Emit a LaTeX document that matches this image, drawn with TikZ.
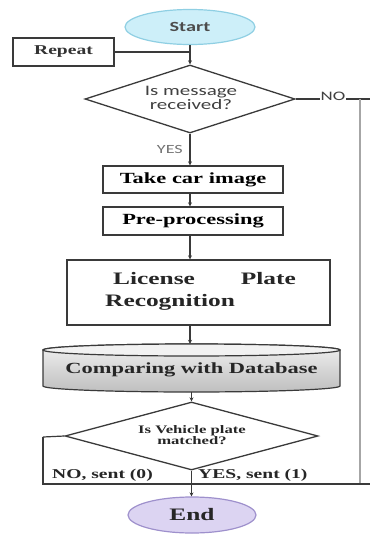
\documentclass[tikz,border=0pt]{standalone}
\usepackage{fontspec}
\setmainfont{Liberation Serif}
\newfontfamily\serW{Liberation Serif}[FakeStretch=1.45]
\newfontfamily\sanW{Carlito}[FakeStretch=1.45]
\usetikzlibrary{arrows.meta,shapes.geometric,calc}
\definecolor{lineC}{HTML}{3A3A3A}
\definecolor{startF}{HTML}{CDEFF9}
\definecolor{startD}{HTML}{8FCFE3}
\definecolor{endF}{HTML}{DCD4F2}
\definecolor{endD}{HTML}{9E90CC}
\tikzset{
  ln/.style={draw=lineC, line width=1.2pt},
  arr/.style={ln, -{Stealth[length=4pt,width=4pt]}},
  boxn/.style={draw=lineC, line width=1.3pt, fill=white, inner sep=0pt, font=\serW\bfseries\fontsize{15.5}{18}\selectfont},
  dia/.style={draw=lineC, line width=1.3pt, diamond, aspect=3.1, inner sep=0pt, fill=white},
  term/.style={ellipse, line width=1.2pt, inner sep=0pt},
  lbl/.style={inner sep=0pt, font=\serW\bfseries\fontsize{13.5}{16}\selectfont, text=black!85},
  lpf/.style={inner sep=0pt, font=\serW\bfseries\fontsize{17.5}{20}\selectfont, text=black!85},
}
\begin{document}
\begin{tikzpicture}[x=1pt,y=-1pt]
\useasboundingbox (0,0) rectangle (370,536);
% terminals
\node[term, draw=startD, fill=startF, minimum width=130pt, minimum height=35pt, font=\sanW\bfseries\fontsize{14}{16}\selectfont, text=black!70] (start) at (190,27) {Start};
\node[boxn, minimum width=101pt, minimum height=28pt, font=\serW\bfseries\fontsize{13.5}{15}\selectfont, text=black!80] (repeat) at (63.5,52) {Repeat};
\node[dia, minimum width=210pt, minimum height=68pt] (d1) at (190,99) {};
\node[font=\sanW\fontsize{14.5}{14.5}\selectfont, align=center, text=black!75] (d1t) at (191,98) {Is message\\received?};
\node[boxn, minimum width=180pt, minimum height=27pt] (tci) at (193,179.5) {Take car image};
\node[boxn, minimum width=180pt, minimum height=28pt] (pre) at (193,221) {Pre-processing};
\node[boxn, minimum width=263pt, minimum height=65pt] (lpr) at (198.5,292.5) {};
\node[lpf, anchor=west] (lp1) at (113,279) {License};
\node[lpf, anchor=east] (lp2) at (296,279) {Plate};
\node[lpf, anchor=west] (lp3) at (105,302) {Recognition};
% cylinder
\node[inner sep=0pt, minimum width=297pt, minimum height=48pt] (cyl) at (191.5,368) {};
\shade[top color=gray!12, bottom color=gray!50, draw=lineC, line width=1.2pt]
  (43,350) -- (43,386) arc[start angle=180, end angle=360, x radius=148.5pt, y radius=6pt] -- (340,350) arc[start angle=0, end angle=180, x radius=148.5pt, y radius=6pt] -- cycle;
\fill[gray!10] (191.5,350) ellipse[x radius=148.5pt, y radius=6pt];
\draw[lineC, line width=1.2pt] (191.5,350) ellipse[x radius=148.5pt, y radius=6pt];
\node[font=\serW\bfseries\fontsize{15.5}{18}\selectfont, inner sep=0pt, text=black!85] (cylt) at (191.5,370) {Comparing with Database};
\node[dia, minimum width=253pt, minimum height=68pt] (d2) at (191.5,436) {};
\node[font=\serW\bfseries\fontsize{11.5}{11}\selectfont, align=center, text=black!85] (d2t) at (192,435) {Is Vehicle plate\\matched?};
\node[term, draw=endD, fill=endF, minimum width=128pt, minimum height=36pt, font=\serW\bfseries\fontsize{17.5}{19}\selectfont, text=black!85] (end) at (192,515) {End};
% coordinates
\coordinate (nr) at (360,99);
\coordinate (nl) at (43,437);
\coordinate (jn) at (191.5,484);
\coordinate (rx) at (370,99);
\coordinate (bx) at (370,484);
% connectors
\draw[arr] (start.south) -- (d1.north);
\draw[ln] (repeat.east) -- (repeat.east -| start.south);
\draw[ln] (d1.east) -- (rx);
\node[font=\sanW\fontsize{13}{14}\selectfont, text=black!75, inner sep=1pt, fill=white] (no1) at (333,96) {NO};
\draw[ln, draw=lineC!45] (nr) -- (nr |- jn);
\draw[ln] (nl) -- (nl |- jn) -- (bx);
\draw[ln] (d2.west) -- (nl);
\draw[arr] (d1.south) -- (tci.north -| d1.south);
\node[font=\sanW\fontsize{12.5}{14}\selectfont, text=black!55, anchor=east, inner sep=0pt] (yes1) at (183,149) {YES};
\draw[arr] (tci.south -| d1.south) -- (pre.north -| d1.south);
\draw[arr] (pre.south -| d1.south) -- (lpr.north -| d1.south);
\draw[arr] (lpr.south -| d1.south) -- (cyl.north -| d1.south);
\draw[arr] (cyl.south -| d2.north) -- (d2.north);
\draw[arr] (d2.south) -- (end.north -| d2.south);
\node[lbl, anchor=south west] (nos) at (52,482) {NO, sent (0)};
\node[lbl, anchor=south west] (yess) at (198,482) {YES, sent (1)};
\end{tikzpicture}
\end{document}
